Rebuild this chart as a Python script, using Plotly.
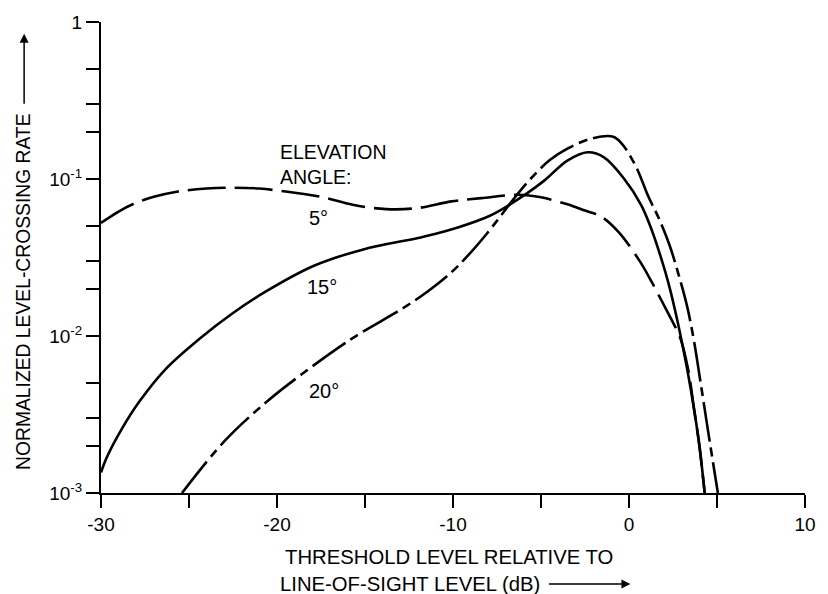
import math
import plotly.graph_objects as go

# ---- data ----
x_5deg = [-30, -29, -28.2, -27, -25.7, -24, -22.7, -21, -19.8, -17.5, -15.7, -13.8, -12, -10.1,
          -8.4, -6.3, -5.0, -3.5, -2.5, -1.6, -0.6, 0.6, 1.3, 1.9, 2.4, 2.9, 3.35, 3.7, 4.0, 4.3]
y_5deg = [0.0525, 0.062, 0.069, 0.077, 0.083, 0.087, 0.088, 0.087, 0.084, 0.077, 0.0685, 0.0643,
          0.0653, 0.072, 0.0755, 0.0793, 0.0765, 0.069, 0.063, 0.0578, 0.046, 0.0301, 0.022,
          0.0164, 0.0128, 0.0098, 0.0062, 0.0034, 0.0020, 0.001]

x_15deg = [-30, -29.7, -28.8, -27.8, -26.3, -24.4, -22.5, -20.7, -17.9, -15.1, -11.9, -10.4, -8.2,
           -7.6, -5.8, -4.8, -3.5, -2.35, -1.4, -0.3, 0.7, 1.3, 1.8, 2.3, 2.8, 3.3, 3.7, 4.0, 4.3]
y_15deg = [0.00135, 0.00166, 0.00258, 0.00385, 0.0062, 0.0096, 0.0140, 0.019, 0.028, 0.0356, 0.0423,
           0.0466, 0.0565, 0.0607, 0.081, 0.098, 0.131, 0.148, 0.137, 0.101, 0.068, 0.047, 0.032,
           0.0205, 0.0118, 0.0062, 0.0034, 0.0020, 0.001]

x_20deg = [-25.4, -23.0, -20.6, -18.6, -15.7, -12.9, -11.5, -10.1, -9.0, -8.0, -7.3, -6.5, -5.6,
           -4.5, -3.5, -2.2, -0.9, -0.4, 0.4, 1.1, 1.7, 2.3, 2.8, 3.3, 3.7, 4.05, 4.5, 5.05]
y_20deg = [0.001, 0.00213, 0.0038, 0.0057, 0.0097, 0.0149, 0.019, 0.0254, 0.034, 0.046, 0.058,
           0.076, 0.100, 0.132, 0.156, 0.180, 0.186, 0.1675, 0.1197, 0.0773, 0.056, 0.038, 0.025,
           0.0155, 0.0092, 0.0052, 0.00245, 0.001]

x_tickvals = [-30, -20, -10, 0, 10]
x_ticktext = ["-30", "-20", "-10", "0", "10"]
x_minor_ticks = [-25, -15, -5, 5]
y_tickvals = [0.001, 0.01, 0.1, 1]
y_ticktext = ["10<sup>-3</sup>", "10<sup>-2</sup>", "10<sup>-1</sup>", "1"]
y_minor_ticks = [0.002, 0.003, 0.005, 0.02, 0.03, 0.05, 0.2, 0.3, 0.5]

curve_labels = ["5°", "15°", "20°"]

FONT = "Arial, Liberation Sans, Helvetica, sans-serif"
INK = "black"

fig = go.Figure()
fig.add_trace(go.Scatter(x=x_5deg, y=y_5deg, mode="lines", line_shape="spline",
                         line=dict(color=INK, width=2.6, dash="38px,9px")))
fig.add_trace(go.Scatter(x=x_15deg, y=y_15deg, mode="lines", line_shape="spline",
                         line=dict(color=INK, width=2.6)))
fig.add_trace(go.Scatter(x=x_20deg, y=y_20deg, mode="lines", line_shape="spline",
                         line=dict(color=INK, width=2.6, dash="40px,6px,9px,6px")))

axis_common = dict(showline=True, linecolor=INK, linewidth=2, showgrid=False, zeroline=False,
                   ticks="outside", ticklen=13, tickwidth=2, tickcolor=INK,
                   tickfont=dict(family=FONT, size=19, color=INK), mirror=False)

fig.update_xaxes(range=[-30, 10], tickmode="array", tickvals=x_tickvals, ticktext=x_ticktext,
                 minor=dict(tickmode="array", tickvals=x_minor_ticks, ticks="outside",
                            ticklen=13, tickwidth=2, tickcolor=INK, showgrid=False),
                 **axis_common)
fig.update_yaxes(type="log", range=[-3, 0], tickmode="array", tickvals=y_tickvals,
                 ticktext=y_ticktext,
                 minor=dict(tickmode="array", tickvals=y_minor_ticks, ticks="outside",
                            ticklen=13, tickwidth=2, tickcolor=INK, showgrid=False),
                 **axis_common)

ann_font = dict(family=FONT, size=20, color=INK)
annotations = [
    dict(x=-19.97, y=0.123, text="ELEVATION<br>ANGLE:", xanchor="left", yanchor="middle",
         align="left", font=dict(family=FONT, size=19.5, color=INK)),
    dict(x=-17.67, y=0.0565, text=curve_labels[0], xanchor="center", yanchor="middle", font=ann_font),
    dict(x=-17.45, y=0.0205, text=curve_labels[1], xanchor="center", yanchor="middle", font=ann_font),
    dict(x=-17.34, y=0.00446, text=curve_labels[2], xanchor="center", yanchor="middle", font=ann_font),
]
for a in annotations:
    a = dict(a)
    a["y"] = math.log10(a["y"])
    fig.add_annotation(xref="x", yref="y", showarrow=False, **a)

title_font = dict(family=FONT, size=20.3, color=INK)
# x-axis title (two lines); the second line carries the arrow
fig.add_annotation(xref="paper", yref="paper", x=0.259, y=-0.1357, xanchor="left", yanchor="middle",
                   text="THRESHOLD LEVEL RELATIVE TO", showarrow=False, font=title_font)
fig.add_annotation(xref="paper", yref="paper", x=0.752, y=-0.193, ax=-220, ay=0,
                   text="LINE-OF-SIGHT LEVEL (dB)", font=title_font,
                   showarrow=True, arrowhead=2, arrowsize=1.2, arrowwidth=1.5, arrowcolor=INK,
                   startstandoff=7)

# y-axis title with arrow
fig.add_annotation(xref="paper", yref="paper", x=-0.1092, y=0.975, ax=0, ay=258, textangle=-90,
                   text="NORMALIZED LEVEL-CROSSING RATE",
                   font=dict(family=FONT, size=19.3, color=INK),
                   showarrow=True, arrowhead=2, arrowsize=1.2, arrowwidth=1.5, arrowcolor=INK,
                   startstandoff=8)

fig.update_layout(width=828, height=594, margin=dict(l=101, r=13, t=17, b=101),
                  paper_bgcolor="white", plot_bgcolor="white", showlegend=False)

fig.write_html("out.html")
